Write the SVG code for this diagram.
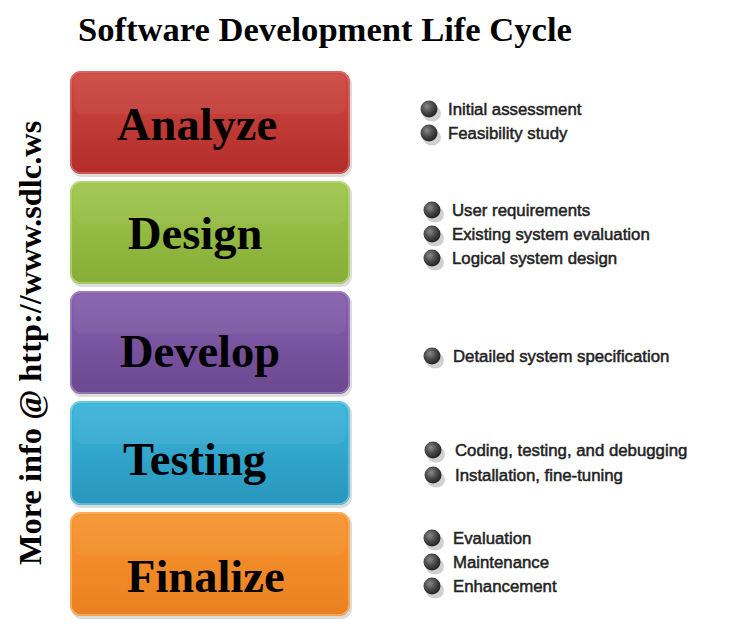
<svg xmlns="http://www.w3.org/2000/svg" width="748" height="631" viewBox="0 0 748 631">
  <style>
    .title { font-family: "Liberation Serif", "Times New Roman", serif; font-weight: bold; font-size: 34.6px; fill: #000; }
    .side { font-family: "Liberation Serif", "Times New Roman", serif; font-weight: bold; font-size: 32.4px; fill: #000; }
    .label { font-family: "Liberation Serif", "Times New Roman", serif; font-weight: bold; font-size: 46.5px; fill: #000; }
    .item { font-family: "Liberation Sans", Arial, sans-serif; font-size: 16.8px; fill: #222; stroke: #222; stroke-width: 0.5; }
    .shadow { fill: #9a9a9a; opacity: 0.35; }
    .edge { fill: none; stroke-width: 1.5; opacity: 0.8; }
    .gloss { fill: #ffffff; opacity: 0.05; }
  </style>
  <defs>
    <linearGradient id="gRed" x1="0" y1="0" x2="0" y2="1">
      <stop offset="0" stop-color="#cf4843"/>
      <stop offset="1" stop-color="#b22d29"/>
    </linearGradient>
    <linearGradient id="gGreen" x1="0" y1="0" x2="0" y2="1">
      <stop offset="0" stop-color="#9fc64e"/>
      <stop offset="1" stop-color="#86ad36"/>
    </linearGradient>
    <linearGradient id="gPurple" x1="0" y1="0" x2="0" y2="1">
      <stop offset="0" stop-color="#8660ae"/>
      <stop offset="1" stop-color="#6c4890"/>
    </linearGradient>
    <linearGradient id="gBlue" x1="0" y1="0" x2="0" y2="1">
      <stop offset="0" stop-color="#3cb5da"/>
      <stop offset="1" stop-color="#2896bd"/>
    </linearGradient>
    <linearGradient id="gOrange" x1="0" y1="0" x2="0" y2="1">
      <stop offset="0" stop-color="#f7952f"/>
      <stop offset="1" stop-color="#ea8120"/>
    </linearGradient>
    <radialGradient id="ball" cx="0.38" cy="0.35" r="0.7">
      <stop offset="0" stop-color="#8a8a8a"/>
      <stop offset="0.5" stop-color="#4a4a4a"/>
      <stop offset="1" stop-color="#1e1e1e"/>
    </radialGradient>
    <g id="bullet">
      <ellipse cx="3" cy="4.5" rx="9" ry="8" fill="#b0b0b0" opacity="0.6"/>
      <circle cx="0" cy="0" r="8.5" fill="url(#ball)"/>
    </g>
  </defs>

  <rect width="748" height="631" fill="#ffffff"/>

  <text class="title" x="78" y="41">Software Development Life Cycle</text>

  <text class="side" transform="translate(41,565) rotate(-90)">More info @ http://www.sdlc.ws</text>

  <g id="connectors"></g>

  <g id="analyze">
    <rect class="shadow" x="71" y="73" width="281" height="104" rx="11"/>
    <rect x="70" y="71" width="280" height="103" rx="11" fill="url(#gRed)"/>
    <rect class="edge" x="71" y="72" width="278" height="101" rx="10" stroke="#dd7670"/>
    <rect class="gloss" x="74" y="74" width="272" height="40" rx="8"/>
    <text class="label" x="117" y="140">Analyze</text>
  </g>

  <g id="design">
    <rect class="shadow" x="71" y="183" width="281" height="104" rx="11"/>
    <rect x="70" y="181" width="280" height="103" rx="11" fill="url(#gGreen)"/>
    <rect class="edge" x="71" y="182" width="278" height="101" rx="10" stroke="#c2dc88"/>
    <rect class="gloss" x="74" y="184" width="272" height="40" rx="8"/>
    <text class="label" x="128" y="249">Design</text>
  </g>

  <g id="develop">
    <rect class="shadow" x="71" y="293" width="281" height="104" rx="11"/>
    <rect x="70" y="291" width="280" height="103" rx="11" fill="url(#gPurple)"/>
    <rect class="edge" x="71" y="292" width="278" height="101" rx="10" stroke="#a98ec8"/>
    <rect class="gloss" x="74" y="294" width="272" height="40" rx="8"/>
    <text class="label" x="120" y="367">Develop</text>
  </g>

  <g id="testing">
    <rect class="shadow" x="71" y="403" width="281" height="105" rx="11"/>
    <rect x="70" y="401" width="280" height="104" rx="11" fill="url(#gBlue)"/>
    <rect class="edge" x="71" y="402" width="278" height="102" rx="10" stroke="#80d2ea"/>
    <rect class="gloss" x="74" y="404" width="272" height="40" rx="8"/>
    <text class="label" x="123" y="475">Testing</text>
  </g>

  <g id="finalize">
    <rect class="shadow" x="71" y="514" width="281" height="105" rx="11"/>
    <rect x="70" y="512" width="280" height="104" rx="11" fill="url(#gOrange)"/>
    <rect class="edge" x="71" y="513" width="278" height="102" rx="10" stroke="#f9bd74"/>
    <rect class="gloss" x="74" y="515" width="272" height="40" rx="8"/>
    <text class="label" x="127" y="592">Finalize</text>
  </g>

  <g id="analyze-items">
    <use href="#bullet" x="429" y="109"/>
    <text class="item" x="448" y="115">Initial assessment</text>
    <use href="#bullet" x="429" y="133"/>
    <text class="item" x="448" y="139">Feasibility study</text>
  </g>

  <g id="design-items">
    <use href="#bullet" x="432" y="210"/>
    <text class="item" x="452" y="216">User requirements</text>
    <use href="#bullet" x="432" y="234"/>
    <text class="item" x="452" y="240">Existing system evaluation</text>
    <use href="#bullet" x="432" y="258"/>
    <text class="item" x="452" y="264">Logical system design</text>
  </g>

  <g id="develop-items">
    <use href="#bullet" x="432" y="356"/>
    <text class="item" x="453" y="362">Detailed system specification</text>
  </g>

  <g id="testing-items">
    <use href="#bullet" x="433" y="450"/>
    <text class="item" x="455" y="456">Coding, testing, and debugging</text>
    <use href="#bullet" x="433" y="475"/>
    <text class="item" x="455" y="481">Installation, fine-tuning</text>
  </g>

  <g id="finalize-items">
    <use href="#bullet" x="432" y="538"/>
    <text class="item" x="453" y="544">Evaluation</text>
    <use href="#bullet" x="432" y="562"/>
    <text class="item" x="453" y="568">Maintenance</text>
    <use href="#bullet" x="432" y="586"/>
    <text class="item" x="453" y="592">Enhancement</text>
  </g>
</svg>
